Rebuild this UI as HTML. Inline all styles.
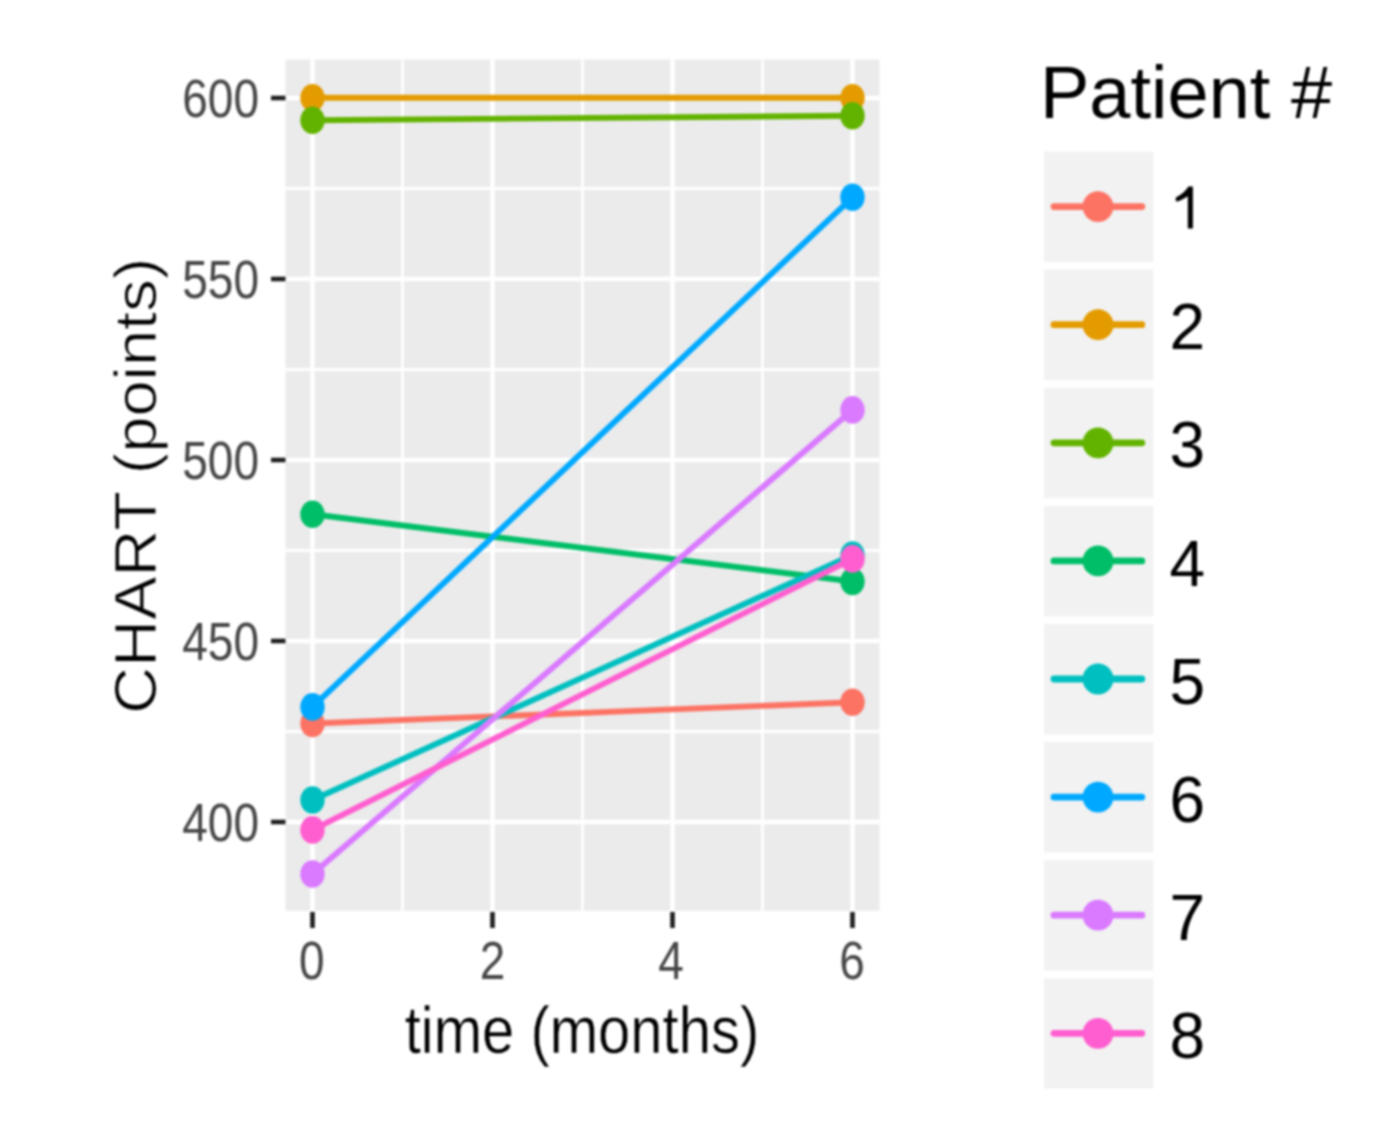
<!DOCTYPE html>
<html><head><meta charset="utf-8"><style>
html,body{margin:0;padding:0;background:#fff;}
svg{display:block;font-family:"Liberation Sans",sans-serif;}
#wrap{width:1374px;height:1145px;filter:blur(0.8px);}
</style></head><body>
<div id="wrap"><svg width="1374" height="1145" viewBox="0 0 1374 1145">
<rect width="1374" height="1145" fill="#fff"/>
<rect x="285.5" y="59.6" width="594.0" height="851.1999999999999" fill="#EBEBEB"/>
<line x1="285.5" x2="879.5" y1="188.50" y2="188.50" stroke="#fff" stroke-width="2.8"/>
<line x1="285.5" x2="879.5" y1="369.50" y2="369.50" stroke="#fff" stroke-width="2.8"/>
<line x1="285.5" x2="879.5" y1="550.50" y2="550.50" stroke="#fff" stroke-width="2.8"/>
<line x1="285.5" x2="879.5" y1="731.50" y2="731.50" stroke="#fff" stroke-width="2.8"/>
<line y1="59.6" y2="910.8" x1="402.50" x2="402.50" stroke="#fff" stroke-width="2.8"/>
<line y1="59.6" y2="910.8" x1="582.50" x2="582.50" stroke="#fff" stroke-width="2.8"/>
<line y1="59.6" y2="910.8" x1="762.50" x2="762.50" stroke="#fff" stroke-width="2.8"/>
<line x1="285.5" x2="879.5" y1="98.00" y2="98.00" stroke="#fff" stroke-width="4.5"/>
<line x1="285.5" x2="879.5" y1="279.00" y2="279.00" stroke="#fff" stroke-width="4.5"/>
<line x1="285.5" x2="879.5" y1="460.00" y2="460.00" stroke="#fff" stroke-width="4.5"/>
<line x1="285.5" x2="879.5" y1="641.00" y2="641.00" stroke="#fff" stroke-width="4.5"/>
<line x1="285.5" x2="879.5" y1="822.00" y2="822.00" stroke="#fff" stroke-width="4.5"/>
<line y1="59.6" y2="910.8" x1="312.50" x2="312.50" stroke="#fff" stroke-width="4.5"/>
<line y1="59.6" y2="910.8" x1="492.50" x2="492.50" stroke="#fff" stroke-width="4.5"/>
<line y1="59.6" y2="910.8" x1="672.50" x2="672.50" stroke="#fff" stroke-width="4.5"/>
<line y1="59.6" y2="910.8" x1="852.50" x2="852.50" stroke="#fff" stroke-width="4.5"/>
<line x1="312.50" y1="723.5" x2="852.50" y2="702.3" stroke="#FC7364" stroke-width="5.9"/>
<line x1="312.50" y1="97.8" x2="852.50" y2="97.8" stroke="#E49B00" stroke-width="5.9"/>
<line x1="312.50" y1="120.3" x2="852.50" y2="115.7" stroke="#62B300" stroke-width="5.9"/>
<line x1="312.50" y1="514.2" x2="852.50" y2="581.5" stroke="#00BE67" stroke-width="5.9"/>
<line x1="312.50" y1="800.0" x2="852.50" y2="555.0" stroke="#00BFC0" stroke-width="5.9"/>
<line x1="312.50" y1="706.9" x2="852.50" y2="197.3" stroke="#00A9FF" stroke-width="5.9"/>
<line x1="312.50" y1="874.0" x2="852.50" y2="409.9" stroke="#DA7AFF" stroke-width="5.9"/>
<line x1="312.50" y1="829.9" x2="852.50" y2="558.9" stroke="#FF5ED0" stroke-width="5.9"/>
<ellipse cx="312.50" cy="723.5" rx="12.2" ry="13.8" fill="#FC7364"/>
<ellipse cx="852.50" cy="702.3" rx="12.2" ry="13.8" fill="#FC7364"/>
<ellipse cx="312.50" cy="97.8" rx="12.2" ry="13.8" fill="#E49B00"/>
<ellipse cx="852.50" cy="97.8" rx="12.2" ry="13.8" fill="#E49B00"/>
<ellipse cx="312.50" cy="120.3" rx="12.2" ry="13.8" fill="#62B300"/>
<ellipse cx="852.50" cy="115.7" rx="12.2" ry="13.8" fill="#62B300"/>
<ellipse cx="312.50" cy="514.2" rx="12.2" ry="13.8" fill="#00BE67"/>
<ellipse cx="852.50" cy="581.5" rx="12.2" ry="13.8" fill="#00BE67"/>
<ellipse cx="312.50" cy="800.0" rx="12.2" ry="13.8" fill="#00BFC0"/>
<ellipse cx="852.50" cy="555.0" rx="12.2" ry="13.8" fill="#00BFC0"/>
<ellipse cx="312.50" cy="706.9" rx="12.2" ry="13.8" fill="#00A9FF"/>
<ellipse cx="852.50" cy="197.3" rx="12.2" ry="13.8" fill="#00A9FF"/>
<ellipse cx="312.50" cy="874.0" rx="12.2" ry="13.8" fill="#DA7AFF"/>
<ellipse cx="852.50" cy="409.9" rx="12.2" ry="13.8" fill="#DA7AFF"/>
<ellipse cx="312.50" cy="829.9" rx="12.2" ry="13.8" fill="#FF5ED0"/>
<ellipse cx="852.50" cy="558.9" rx="12.2" ry="13.8" fill="#FF5ED0"/>
<line x1="271" x2="285.5" y1="98.00" y2="98.00" stroke="#1E1E1E" stroke-width="4.6"/>
<line x1="271" x2="285.5" y1="279.00" y2="279.00" stroke="#1E1E1E" stroke-width="4.6"/>
<line x1="271" x2="285.5" y1="460.00" y2="460.00" stroke="#1E1E1E" stroke-width="4.6"/>
<line x1="271" x2="285.5" y1="641.00" y2="641.00" stroke="#1E1E1E" stroke-width="4.6"/>
<line x1="271" x2="285.5" y1="822.00" y2="822.00" stroke="#1E1E1E" stroke-width="4.6"/>
<line y1="912" y2="928" x1="312.50" x2="312.50" stroke="#1E1E1E" stroke-width="4.6"/>
<line y1="912" y2="928" x1="492.50" x2="492.50" stroke="#1E1E1E" stroke-width="4.6"/>
<line y1="912" y2="928" x1="672.50" x2="672.50" stroke="#1E1E1E" stroke-width="4.6"/>
<line y1="912" y2="928" x1="852.50" x2="852.50" stroke="#1E1E1E" stroke-width="4.6"/>
<text transform="translate(259,117.04) scale(1,1.15)" text-anchor="end" font-size="46" fill="#464646">600</text>
<text transform="translate(259,298.04) scale(1,1.15)" text-anchor="end" font-size="46" fill="#464646">550</text>
<text transform="translate(259,479.04) scale(1,1.15)" text-anchor="end" font-size="46" fill="#464646">500</text>
<text transform="translate(259,660.04) scale(1,1.15)" text-anchor="end" font-size="46" fill="#464646">450</text>
<text transform="translate(259,841.04) scale(1,1.15)" text-anchor="end" font-size="46" fill="#464646">400</text>
<text transform="translate(311.90,979.3) scale(1,1.15)" text-anchor="middle" font-size="46" fill="#464646">0</text>
<text transform="translate(492.50,979.3) scale(1,1.15)" text-anchor="middle" font-size="46" fill="#464646">2</text>
<text transform="translate(671.00,979.3) scale(1,1.15)" text-anchor="middle" font-size="46" fill="#464646">4</text>
<text transform="translate(852.00,979.3) scale(1,1.15)" text-anchor="middle" font-size="46" fill="#464646">6</text>
<text transform="translate(582,1053) scale(1,1.15)" text-anchor="middle" font-size="58" fill="#000" stroke="#fff" stroke-width="0.4">time (months)</text>
<text transform="translate(155.8,485.7) rotate(-90) scale(1.12,1.02)" text-anchor="middle" font-size="58" fill="#000" stroke="#fff" stroke-width="0.9">CHART (points)</text>
<text x="1040" y="117.5" font-size="74" fill="#000">Patient #</text>
<rect x="1044" y="151.60" width="109.4" height="110.4" fill="#F2F2F2"/>
<line x1="1054" x2="1141.8" y1="206.60" y2="206.60" stroke="#FC7364" stroke-width="6.8" stroke-linecap="round"/>
<circle cx="1098" cy="206.60" r="15.4" fill="#FC7364"/>
<path d="M1192.9,186.5 L1192.9,228.6 L1187.8,228.6 L1187.8,196.2 C1184,198.6 1180,200.6 1177.2,201.4 C1175.6,201.6 1175.3,198.6 1176,197.4 C1181,195 1185.8,191.2 1188.4,186.5 Z" fill="#000"/>
<rect x="1044" y="269.70" width="109.4" height="110.4" fill="#F2F2F2"/>
<line x1="1054" x2="1141.8" y1="324.70" y2="324.70" stroke="#E49B00" stroke-width="6.8" stroke-linecap="round"/>
<circle cx="1098" cy="324.70" r="15.4" fill="#E49B00"/>
<text x="1169.5" y="349.30" font-size="64" fill="#000">2</text>
<rect x="1044" y="387.80" width="109.4" height="110.4" fill="#F2F2F2"/>
<line x1="1054" x2="1141.8" y1="442.80" y2="442.80" stroke="#62B300" stroke-width="6.8" stroke-linecap="round"/>
<circle cx="1098" cy="442.80" r="15.4" fill="#62B300"/>
<text x="1169.5" y="467.40" font-size="64" fill="#000">3</text>
<rect x="1044" y="505.90" width="109.4" height="110.4" fill="#F2F2F2"/>
<line x1="1054" x2="1141.8" y1="560.90" y2="560.90" stroke="#00BE67" stroke-width="6.8" stroke-linecap="round"/>
<circle cx="1098" cy="560.90" r="15.4" fill="#00BE67"/>
<text x="1169.5" y="585.50" font-size="64" fill="#000">4</text>
<rect x="1044" y="624.00" width="109.4" height="110.4" fill="#F2F2F2"/>
<line x1="1054" x2="1141.8" y1="679.00" y2="679.00" stroke="#00BFC0" stroke-width="6.8" stroke-linecap="round"/>
<circle cx="1098" cy="679.00" r="15.4" fill="#00BFC0"/>
<text x="1169.5" y="703.60" font-size="64" fill="#000">5</text>
<rect x="1044" y="742.10" width="109.4" height="110.4" fill="#F2F2F2"/>
<line x1="1054" x2="1141.8" y1="797.10" y2="797.10" stroke="#00A9FF" stroke-width="6.8" stroke-linecap="round"/>
<circle cx="1098" cy="797.10" r="15.4" fill="#00A9FF"/>
<text x="1169.5" y="821.70" font-size="64" fill="#000">6</text>
<rect x="1044" y="860.20" width="109.4" height="110.4" fill="#F2F2F2"/>
<line x1="1054" x2="1141.8" y1="915.20" y2="915.20" stroke="#DA7AFF" stroke-width="6.8" stroke-linecap="round"/>
<circle cx="1098" cy="915.20" r="15.4" fill="#DA7AFF"/>
<text x="1169.5" y="939.80" font-size="64" fill="#000">7</text>
<rect x="1044" y="978.30" width="109.4" height="110.4" fill="#F2F2F2"/>
<line x1="1054" x2="1141.8" y1="1033.30" y2="1033.30" stroke="#FF5ED0" stroke-width="6.8" stroke-linecap="round"/>
<circle cx="1098" cy="1033.30" r="15.4" fill="#FF5ED0"/>
<text x="1169.5" y="1057.90" font-size="64" fill="#000">8</text>
</svg></div>
</body></html>
